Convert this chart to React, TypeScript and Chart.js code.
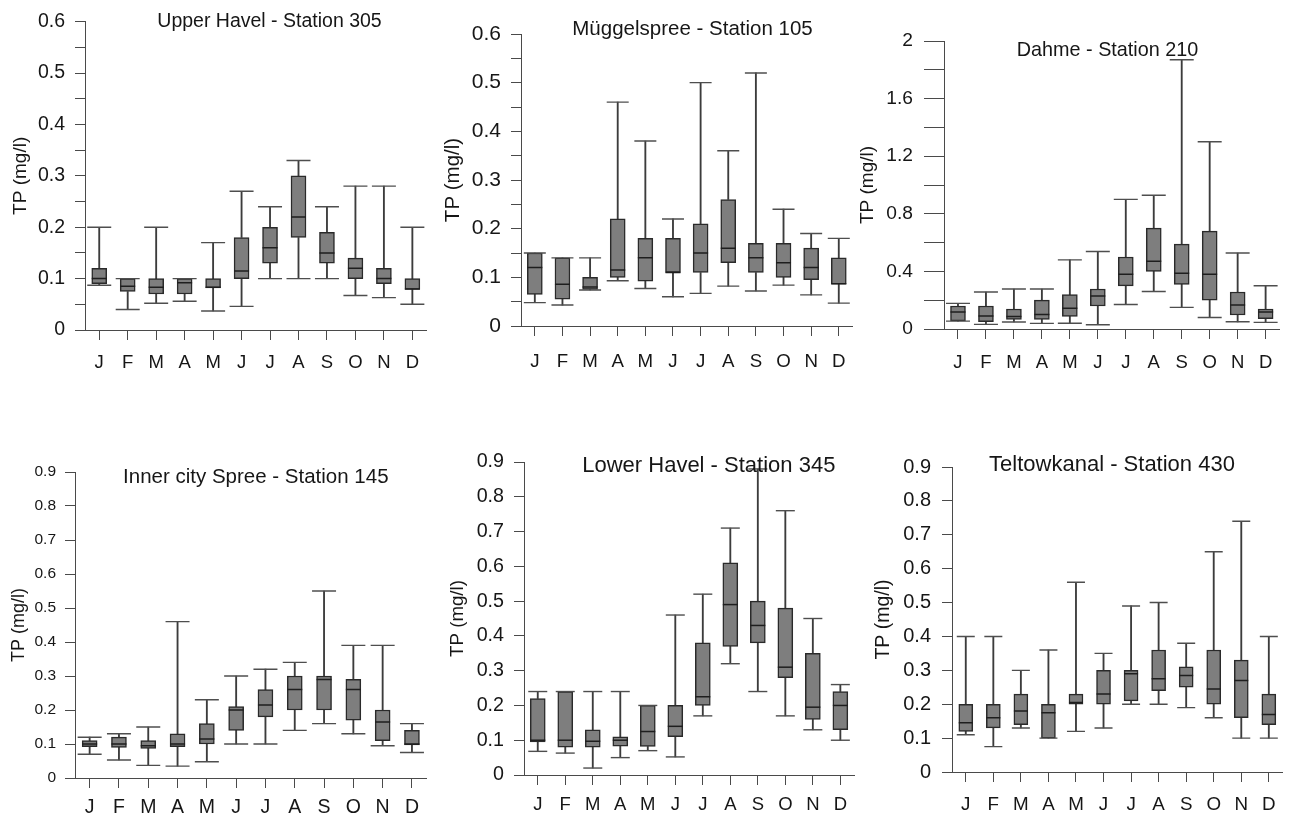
import React, { useEffect, useRef } from 'react';
import { Chart, registerables } from 'chart.js';

Chart.register(...registerables);

const MONTHS = ['J', 'F', 'M', 'A', 'M', 'J', 'J', 'A', 'S', 'O', 'N', 'D'];
const Y_TITLE = 'TP (mg/l)';

// Upper Havel - Station 305
const UH_LOW = [0.087, 0.04, 0.052, 0.056, 0.037, 0.046, 0.1, 0.1, 0.1, 0.067, 0.063, 0.05];
const UH_Q1 = [0.09, 0.075, 0.07, 0.07, 0.082, 0.1, 0.13, 0.18, 0.13, 0.1, 0.09, 0.079];
const UH_MED = [0.1, 0.085, 0.083, 0.092, 0.083, 0.115, 0.16, 0.22, 0.15, 0.12, 0.1, 0.08];
const UH_Q3 = [0.12, 0.1, 0.1, 0.1, 0.1, 0.18, 0.2, 0.3, 0.19, 0.14, 0.12, 0.1];
const UH_HIGH = [0.2, 0.1, 0.2, 0.1, 0.17, 0.27, 0.24, 0.33, 0.24, 0.28, 0.28, 0.2];

// Müggelspree - Station 105
const MS_LOW = [0.048, 0.043, 0.074, 0.093, 0.077, 0.06, 0.067, 0.082, 0.072, 0.084, 0.064, 0.047];
const MS_Q1 = [0.065, 0.055, 0.075, 0.1, 0.092, 0.11, 0.11, 0.13, 0.11, 0.1, 0.095, 0.086];
const MS_MED = [0.12, 0.086, 0.08, 0.115, 0.14, 0.11, 0.15, 0.16, 0.14, 0.13, 0.12, 0.087];
const MS_Q3 = [0.15, 0.14, 0.1, 0.22, 0.18, 0.18, 0.21, 0.26, 0.17, 0.17, 0.16, 0.14];
const MS_HIGH = [0.15, 0.14, 0.14, 0.46, 0.38, 0.22, 0.5, 0.36, 0.52, 0.24, 0.19, 0.18];

// Dahme - Station 210
const DA_LOW = [0.055, 0.032, 0.049, 0.039, 0.04, 0.03, 0.17, 0.26, 0.15, 0.08, 0.05, 0.046];
const DA_Q1 = [0.056, 0.051, 0.067, 0.067, 0.088, 0.16, 0.3, 0.4, 0.31, 0.2, 0.097, 0.072];
const DA_MED = [0.118, 0.09, 0.086, 0.1, 0.144, 0.229, 0.38, 0.47, 0.387, 0.38, 0.167, 0.118];
const DA_Q3 = [0.16, 0.16, 0.139, 0.2, 0.239, 0.278, 0.5, 0.7, 0.589, 0.68, 0.257, 0.139];
const DA_HIGH = [0.178, 0.257, 0.278, 0.278, 0.48, 0.538, 0.9, 0.929, 1.87, 1.3, 0.528, 0.3];

// Inner city Spree - Station 145
const IS_LOW = [0.07, 0.053, 0.037, 0.035, 0.048, 0.1, 0.1, 0.14, 0.16, 0.13, 0.095, 0.075];
const IS_Q1 = [0.092, 0.09, 0.087, 0.092, 0.1, 0.14, 0.18, 0.2, 0.2, 0.17, 0.11, 0.097];
const IS_MED = [0.1, 0.1, 0.095, 0.1, 0.115, 0.2, 0.215, 0.26, 0.29, 0.26, 0.165, 0.1];
const IS_Q3 = [0.11, 0.12, 0.11, 0.13, 0.16, 0.21, 0.26, 0.3, 0.3, 0.29, 0.2, 0.14];
const IS_HIGH = [0.12, 0.13, 0.15, 0.46, 0.23, 0.3, 0.32, 0.34, 0.55, 0.39, 0.39, 0.16];

// Lower Havel - Station 345
const LH_LOW = [0.068, 0.063, 0.02, 0.05, 0.07, 0.052, 0.17, 0.32, 0.24, 0.17, 0.13, 0.1];
const LH_Q1 = [0.095, 0.08, 0.08, 0.083, 0.082, 0.11, 0.2, 0.37, 0.38, 0.28, 0.16, 0.13];
const LH_MED = [0.1, 0.1, 0.097, 0.1, 0.125, 0.14, 0.225, 0.49, 0.43, 0.31, 0.195, 0.2];
const LH_Q3 = [0.22, 0.24, 0.13, 0.11, 0.2, 0.2, 0.38, 0.61, 0.5, 0.48, 0.35, 0.24];
const LH_HIGH = [0.24, 0.24, 0.24, 0.24, 0.2, 0.46, 0.52, 0.71, 0.88, 0.76, 0.45, 0.26];

// Teltowkanal - Station 430
const TK_LOW = [0.11, 0.075, 0.13, 0.1, 0.12, 0.13, 0.2, 0.2, 0.19, 0.16, 0.1, 0.1];
const TK_Q1 = [0.12, 0.13, 0.14, 0.1, 0.2, 0.2, 0.21, 0.24, 0.25, 0.2, 0.16, 0.14];
const TK_MED = [0.145, 0.16, 0.18, 0.175, 0.205, 0.23, 0.29, 0.275, 0.285, 0.245, 0.27, 0.17];
const TK_Q3 = [0.2, 0.2, 0.23, 0.2, 0.23, 0.3, 0.3, 0.36, 0.31, 0.36, 0.33, 0.23];
const TK_HIGH = [0.4, 0.4, 0.3, 0.36, 0.56, 0.35, 0.49, 0.5, 0.38, 0.65, 0.74, 0.4];

const FAMILY = "'Liberation Sans', Arial, Helvetica, sans-serif";
const TEXT = '#161616';
const AXIS = '#4a4a4a';

type Panel = {
  title: string;
  low: number[]; q1: number[]; med: number[]; q3: number[]; high: number[];
  yMax: number; yStep: number; labelEvery: number; yTickLen: number;
  canvas: { left: number; top: number; width: number; height: number };
  area: { left: number; top: number; right: number; bottom: number };
  titlePos: { x: number; y: number; size: number };
  yTitle: { size: number; pad: number };
  yTick: { size: number; pad: number };
  xTick: { size: number; pad: number };
  capWidth: number;
  boxWidth: number;
};

const PANELS: Panel[] = [
  {
    title: 'Upper Havel - Station 305',
    low: UH_LOW, q1: UH_Q1, med: UH_MED, q3: UH_Q3, high: UH_HIGH,
    yMax: 0.6, yStep: 0.05, labelEvery: 2, yTickLen: 10,
    canvas: { left: 0, top: 0, width: 440, height: 400 },
    area: { left: 85, top: 19, right: 438, bottom: 330 },
    titlePos: { x: 269.5, y: 26.7, size: 19.5 },
    yTitle: { size: 19, pad: 9.6 },
    yTick: { size: 19.5, pad: 10 },
    xTick: { size: 18.5, pad: 12 },
    capWidth: 24, boxWidth: 15,
  },
  {
    title: 'Müggelspree - Station 105',
    low: MS_LOW, q1: MS_Q1, med: MS_MED, q3: MS_Q3, high: MS_HIGH,
    yMax: 0.6, yStep: 0.05, labelEvery: 2, yTickLen: 10,
    canvas: { left: 440, top: 0, width: 425, height: 400 },
    area: { left: 521, top: 34, right: 853, bottom: 326 },
    titlePos: { x: 692.5, y: 35, size: 20.5 },
    yTitle: { size: 20.5, pad: 0.7 },
    yTick: { size: 21, pad: 10 },
    xTick: { size: 18.7, pad: 15 },
    capWidth: 22, boxWidth: 15,
  },
  {
    title: 'Dahme - Station 210',
    low: DA_LOW, q1: DA_Q1, med: DA_MED, q3: DA_Q3, high: DA_HIGH,
    yMax: 2, yStep: 0.2, labelEvery: 2, yTickLen: 20,
    canvas: { left: 855, top: 0, width: 438, height: 400 },
    area: { left: 944, top: 41, right: 1285, bottom: 329 },
    titlePos: { x: 1107.5, y: 56, size: 19.8 },
    yTitle: { size: 19, pad: 1.6 },
    yTick: { size: 19.2, pad: 11 },
    xTick: { size: 18.5, pad: 13 },
    capWidth: 24, boxWidth: 15,
  },
  {
    title: 'Inner city Spree - Station 145',
    low: IS_LOW, q1: IS_Q1, med: IS_MED, q3: IS_Q3, high: IS_HIGH,
    yMax: 0.9, yStep: 0.1, labelEvery: 1, yTickLen: 10,
    canvas: { left: 0, top: 400, width: 440, height: 416 },
    area: { left: 75, top: 472, right: 438, bottom: 778 },
    titlePos: { x: 255.8, y: 483.3, size: 20.5 },
    yTitle: { size: 18, pad: 8.2 },
    yTick: { size: 15.5, pad: 9 },
    xTick: { size: 19.5, pad: 8.3 },
    capWidth: 24, boxWidth: 15,
  },
  {
    title: 'Lower Havel - Station 345',
    low: LH_LOW, q1: LH_Q1, med: LH_MED, q3: LH_Q3, high: LH_HIGH,
    yMax: 0.9, yStep: 0.1, labelEvery: 1, yTickLen: 10,
    canvas: { left: 440, top: 400, width: 425, height: 416 },
    area: { left: 524, top: 462, right: 862, bottom: 775 },
    titlePos: { x: 708.8, y: 471.7, size: 22 },
    yTitle: { size: 18.7, pad: 6.8 },
    yTick: { size: 19.7, pad: 10 },
    xTick: { size: 18.5, pad: 9 },
    capWidth: 19, boxWidth: 15,
  },
  {
    title: 'Teltowkanal - Station 430',
    low: TK_LOW, q1: TK_Q1, med: TK_MED, q3: TK_Q3, high: TK_HIGH,
    yMax: 0.9, yStep: 0.1, labelEvery: 1, yTickLen: 10,
    canvas: { left: 865, top: 400, width: 428, height: 416 },
    area: { left: 952, top: 467, right: 1285, bottom: 772 },
    titlePos: { x: 1112, y: 470.7, size: 22 },
    yTitle: { size: 19.5, pad: 7.3 },
    yTick: { size: 20, pad: 11 },
    xTick: { size: 18.8, pad: 11.7 },
    capWidth: 18, boxWidth: 14,
  },
];

function fmt(v: number): string {
  return String(Math.round(v * 100) / 100);
}

function makeConfig(p: Panel): any {
  const c = p.canvas;
  const a = p.area;
  const titlePlugin = {
    id: 'panelTitle',
    afterDraw(chart: any) {
      const ctx = chart.ctx;
      ctx.save();
      ctx.font = `${p.titlePos.size}px ${FAMILY}`;
      ctx.fillStyle = TEXT;
      ctx.textAlign = 'center';
      ctx.textBaseline = 'alphabetic';
      ctx.fillText(p.title, p.titlePos.x - c.left, p.titlePos.y - c.top);
      ctx.restore();
    },
  };
  return {
    type: 'bar',
    data: {
      labels: MONTHS,
      datasets: [
        {
          type: 'bar',
          data: p.low.map((v, i) => [v, p.q1[i]]),
          backgroundColor: '#3c3c3c',
          borderWidth: 0,
          barThickness: 1.2,
          grouped: false,
          order: 4,
        },
        {
          type: 'bar',
          data: p.q3.map((v, i) => [v, p.high[i]]),
          backgroundColor: '#3c3c3c',
          borderWidth: 0,
          barThickness: 1.2,
          grouped: false,
          order: 4,
        },
        {
          type: 'bar',
          data: p.q1.map((v, i) => [v, p.q3[i]]),
          backgroundColor: '#7e7e7e',
          borderColor: '#2a2a2a',
          borderWidth: 1.5,
          borderSkipped: false,
          barThickness: p.boxWidth,
          grouped: false,
          order: 3,
        },
        {
          type: 'line',
          data: p.high,
          showLine: false,
          pointStyle: 'line',
          pointRadius: p.capWidth / 2,
          pointHoverRadius: p.capWidth / 2,
          pointBorderColor: '#4e4e4e',
          pointBorderWidth: 1.4,
          order: 2,
        },
        {
          type: 'line',
          data: p.low,
          showLine: false,
          pointStyle: 'line',
          pointRadius: p.capWidth / 2,
          pointHoverRadius: p.capWidth / 2,
          pointBorderColor: '#4e4e4e',
          pointBorderWidth: 1.4,
          order: 2,
        },
        {
          type: 'line',
          data: p.med,
          showLine: false,
          pointStyle: 'line',
          pointRadius: p.boxWidth / 2,
          pointHoverRadius: p.boxWidth / 2,
          pointBorderColor: '#1e1e1e',
          pointBorderWidth: 1.5,
          order: 1,
        },
      ],
    },
    options: {
      animation: false,
      responsive: false,
      maintainAspectRatio: false,
      devicePixelRatio: 1,
      events: [],
      layout: {
        padding: {
          left: 0,
          top: a.top - c.top,
          right: c.left + c.width - a.right,
          bottom: 0,
        },
      },
      plugins: {
        legend: { display: false },
        tooltip: { enabled: false },
        title: { display: false },
      },
      scales: {
        x: {
          type: 'category',
          offset: true,
          grid: {
            display: true,
            offset: false,
            drawOnChartArea: false,
            drawTicks: true,
            tickLength: 10,
            color: AXIS,
            lineWidth: 1,
          },
          border: { display: true, color: AXIS, width: 1 },
          ticks: {
            color: TEXT,
            font: { family: FAMILY, size: p.xTick.size },
            padding: p.xTick.pad,
            autoSkip: false,
            maxRotation: 0,
          },
          afterFit: (s: any) => {
            s.height = c.top + c.height - a.bottom;
          },
        },
        y: {
          type: 'linear',
          min: 0,
          max: p.yMax,
          grid: {
            display: true,
            drawOnChartArea: false,
            drawTicks: true,
            tickLength: p.yTickLen,
            color: AXIS,
            lineWidth: 1,
          },
          border: { display: true, color: AXIS, width: 1 },
          ticks: {
            stepSize: p.yStep,
            autoSkip: false,
            color: TEXT,
            font: { family: FAMILY, size: p.yTick.size },
            padding: p.yTick.pad,
            callback: (v: number, i: number) => (i % p.labelEvery === 0 ? fmt(v) : ''),
          },
          title: {
            display: true,
            text: Y_TITLE,
            color: TEXT,
            font: { family: FAMILY, size: p.yTitle.size },
            padding: { top: p.yTitle.pad, bottom: 0 },
          },
          afterFit: (s: any) => {
            s.width = a.left - c.left;
          },
        },
      },
    },
    plugins: [titlePlugin],
  };
}

function BoxPanel({ panel }: { panel: Panel }) {
  const ref = useRef<HTMLCanvasElement | null>(null);
  useEffect(() => {
    if (!ref.current) return;
    const chart = new Chart(ref.current, makeConfig(panel));
    return () => chart.destroy();
  }, [panel]);
  const c = panel.canvas;
  return (
    <canvas
      ref={ref}
      width={c.width}
      height={c.height}
      style={{ position: 'absolute', left: c.left, top: c.top, width: c.width, height: c.height }}
    />
  );
}

export default function App() {
  return (
    <div style={{ position: 'absolute', left: 0, top: 0, width: 1293, height: 816, background: '#ffffff' }}>
      {PANELS.map((p, i) => (
        <BoxPanel key={i} panel={p} />
      ))}
    </div>
  );
}
